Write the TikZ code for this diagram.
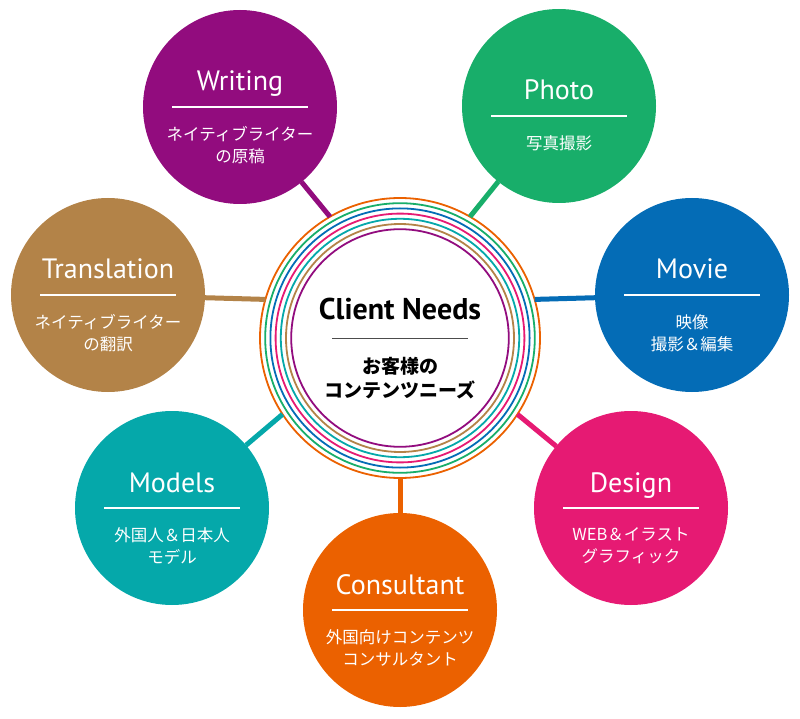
\documentclass[tikz,border=0pt]{standalone}
\usepackage{fontspec}
\setmainfont{PT Sans}
\newfontfamily\jp{Noto Sans CJK JP}
\usetikzlibrary{calc}
\definecolor{cpurple}{RGB}{146,12,126}
\definecolor{cgreen}{RGB}{24,174,106}
\definecolor{cblue}{RGB}{4,108,182}
\definecolor{cpink}{RGB}{230,26,115}
\definecolor{corange}{RGB}{235,97,0}
\definecolor{cteal}{RGB}{5,168,170}
\definecolor{cbrown}{RGB}{179,131,72}
\tikzset{
  bubble/.style={
    circle,
    minimum size=194pt,
    inner sep=0pt,
    outer sep=0pt
  },
  hub/.style={circle, fill=white, minimum size=280pt, inner sep=0pt, outer sep=0pt},
  title/.style={text=white, inner sep=0pt, font=\fontsize{28}{32}\selectfont},
  subtitle/.style={text=white, inner sep=0pt, align=center, font=\jp\fontsize{16.5}{22}\selectfont},
  divider/.style={white, line width=1.2pt},
  link/.style={line width=5pt}
}

\begin{document}
\begin{tikzpicture}[x=1pt, y=-1pt]
  \useasboundingbox (0,0) rectangle (800,719);
  % centre
  \node[hub] (hub) at (400,338) {};
  \foreach \c [count=\i from 0] in {corange,cgreen,cblue,cpink,cteal,cbrown,cpurple}
    \draw[\c, line width=1.8pt] (hub.center) circle[radius={140pt-5.2pt*\i}];
  \node[anchor=base, inner sep=0pt, font=\bfseries\fontsize{30}{34}\selectfont] (needs) at ([yshift=19pt]hub.center) {Client Needs};
  \draw[black!70, line width=1pt] ([xshift=-68pt]hub.center) -- ([xshift=68pt]hub.center);
  \node[subtitle, text=black, anchor=north, font=\jp\bfseries\fontsize{19}{24}\selectfont] (needsjp) at ([yshift=-19pt]hub.center) {お客様の\\コンテンツニーズ};
  % satellites
  \foreach \n/\x/\y/\d/\c/\t/\s in {
      writing/240/107/0/cpurple/Writing/{ネイティブライター\\の原稿},
      photo/559/106/10/cgreen/Photo/{写真撮影},
      movie/692/295/0/cblue/Movie/{映像\\撮影＆編集},
      design/631/508/0/cpink/Design/{WEB＆イラスト\\グラフィック},
      consultant/400/610/0/corange/Consultant/{外国向けコンテンツ\\コンサルタント},
      models/172/508/0/cteal/Models/{外国人＆日本人\\モデル},
      translation/108/295/0/cbrown/Translation/{ネイティブライター\\の翻訳}} {
    \node[bubble, fill=\c] (\n) at (\x,\y) {};
    \coordinate (\n-mid) at (\x,\y+\d);
    \draw[divider] ([xshift=-68pt]\n-mid) -- ([xshift=68pt]\n-mid);
    \node[title, anchor=base] (\n-title) at ([yshift=16pt]\n-mid) {\t};
    \node[subtitle, anchor=north] (\n-text) at ([yshift=-19pt]\n-mid) {\s};
  }
  % links
  \draw[link, cpurple] (writing) -- (hub.120);
  \draw[link, cgreen] (photo) -- (hub.60);
  \draw[link, cblue] (movie) -- (hub.16);
  \draw[link, cpink] (design) -- (hub.-33);
  \draw[link, corange] (consultant) -- (hub.south);
  \draw[link, cteal] (models) -- (hub.213);
  \draw[link, cbrown] (translation) -- (hub.164);
\end{tikzpicture}
\end{document}
